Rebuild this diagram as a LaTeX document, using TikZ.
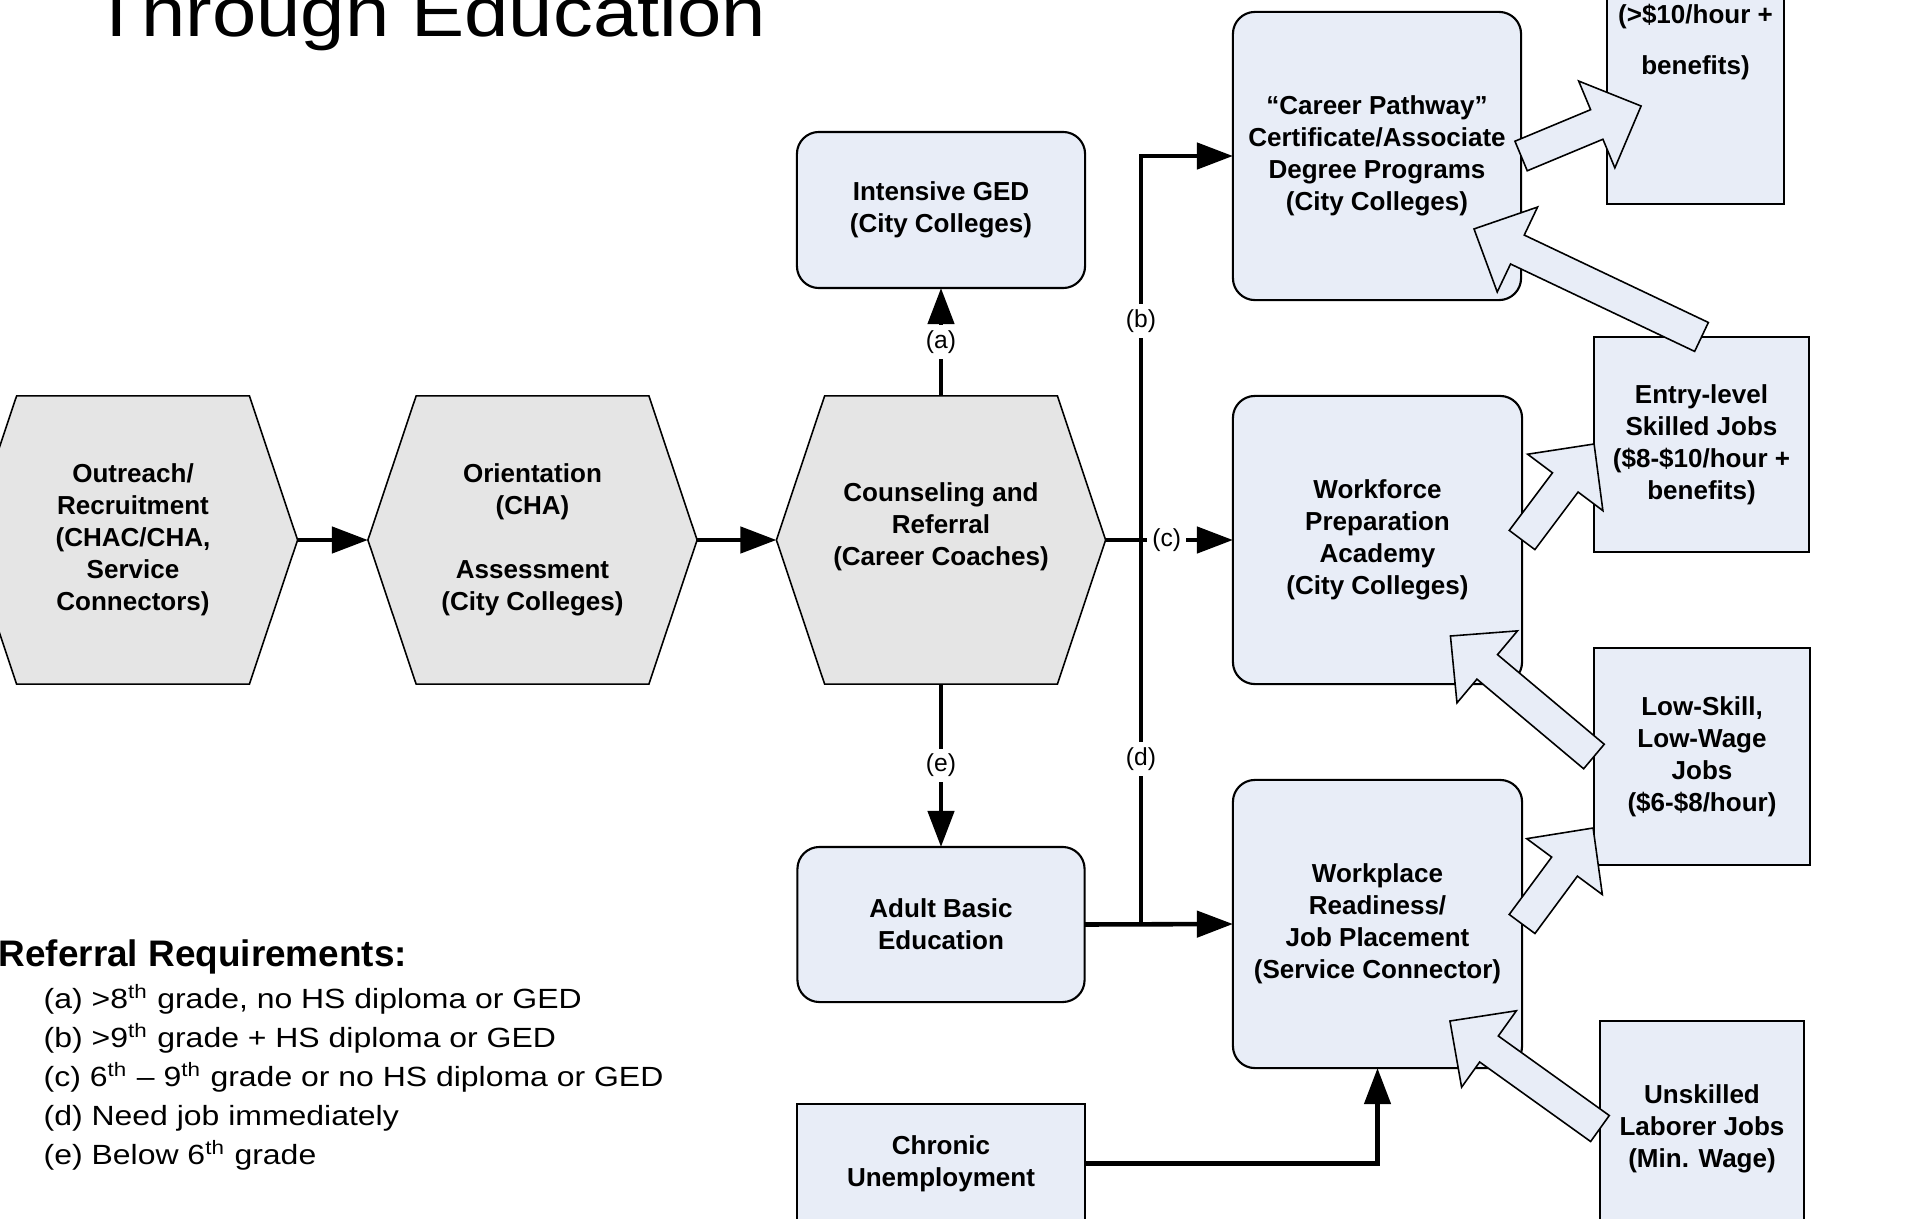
\documentclass[tikz,border=0pt]{standalone}
\usepackage{fontspec}
\setmainfont{Liberation Sans}
\newfontfamily\widefont[FakeStretch=1.15]{Liberation Sans}
\usetikzlibrary{arrows.meta,shapes.symbols,calc}

\definecolor{hexgray}{RGB}{229,229,229}
\definecolor{boxblue}{RGB}{232,237,247}
\newcommand{\boxfont}{\fontsize{7.4}{9.1}\selectfont\bfseries}

\tikzset{
  hexbox/.style={signal, signal to=east and west, signal pointer angle=143,
    draw, line width=0.45pt, fill=hexgray, minimum width=3.29cm, minimum height=2.88cm,
    align=center, font=\boxfont, inner sep=0pt, outer sep=0pt},
  progbox/.style={rectangle, rounded corners=0.22cm, draw, line width=0.6pt, fill=boxblue,
    align=center, font=\boxfont, inner sep=0pt, outer sep=0pt},
  jobbox/.style={rectangle, draw, line width=0.6pt, fill=boxblue,
    align=center, font=\boxfont, inner sep=0pt, outer sep=0pt},
  flow/.style={line width=1.3pt},
  flowarrow/.style={flow, -{Triangle[length=0.36cm,width=0.26cm]}},
  req/.style={fill=white, inner sep=1.5pt, font=\fontsize{7}{8}\selectfont},
  reqitem/.style={font=\widefont\fontsize{7.9}{9.5}\selectfont, inner sep=0pt},
  blockarrow/.style={draw, fill=boxblue, line width=0.45pt, line join=miter}
}

% wide hollow arrow from an anchor, #2 = offset of the tip
\newcommand{\jobarrow}[2]{%
  \coordinate (ja-s) at (#1);
  \coordinate (ja-e) at ($(#1)+(#2)$);
  \coordinate (ja-h) at ($(ja-e)!0.48cm!(ja-s)$);
  \draw[blockarrow] ($(ja-s)!0.16cm!90:(ja-e)$) -- ($(ja-h)!0.16cm!90:(ja-e)$)
    -- ($(ja-h)!0.47cm!90:(ja-e)$) -- (ja-e) -- ($(ja-h)!0.47cm!-90:(ja-e)$)
    -- ($(ja-h)!0.16cm!-90:(ja-e)$) -- ($(ja-s)!0.16cm!-90:(ja-e)$) -- cycle;
}

\begin{document}
\begin{tikzpicture}[x=0.01cm, y=-0.01cm]
\fill[white] (0,0) rectangle (1915,1218);
\useasboundingbox (0,0) rectangle (1915,1218);

\node[anchor=base west, font=\widefont\fontsize{19.7}{24}\selectfont, inner sep=0pt] (title) at (92,37) {Through Education};

% intake
\node[hexbox] (outreach) at (133,540) {Outreach/\\Recruitment\\(CHAC/CHA,\\Service\\Connectors)};
\node[hexbox] (orient) at (532.5,540) {Orientation\\(CHA)\\ \mbox{}\\Assessment\\(City Colleges)};
\node[hexbox] (counsel) at (941,540) {Counseling and\\Referral\\(Career Coaches)\\ \mbox{}};

% programs
\node[progbox, minimum width=2.88cm, minimum height=1.56cm] (ged) at (941,210) {Intensive GED\\(City Colleges)};
\node[progbox, minimum width=2.87cm, minimum height=1.55cm] (abe) at (941,924.5) {Adult Basic\\Education};
\node[jobbox, minimum width=2.87cm, minimum height=1.19cm] (chronic) at (941,1163.5) {Chronic\\Unemployment};
\node[progbox, minimum width=2.88cm, minimum height=2.88cm] (career) at (1377,156) {``Career Pathway''\\Certificate/Associate\\Degree Programs\\(City Colleges)};
\node[progbox, minimum width=2.89cm, minimum height=2.88cm] (workforce) at (1377.5,540) {Workforce\\Preparation\\Academy\\(City Colleges)};
\node[progbox, minimum width=2.89cm, minimum height=2.88cm] (workplace) at (1377.5,924) {Workplace\\Readiness/\\Job Placement\\(Service Connector)};

% jobs
\node[jobbox, minimum width=1.77cm, minimum height=3.24cm] (topjobs) at (1695.5,42) {(>\$10/hour +\\[5.6pt]benefits)};
\node[jobbox, minimum width=2.15cm, minimum height=2.15cm] (entry) at (1701.5,444.5) {Entry-level\\Skilled Jobs\\(\$8-\$10/hour +\\benefits)};
\node[jobbox, minimum width=2.16cm, minimum height=2.17cm] (lowskill) at (1702,756.5) {Low-Skill,\\Low-Wage\\Jobs\\(\$6-\$8/hour)};
\node[jobbox, minimum width=2.04cm, minimum height=2.15cm] (unskilled) at (1702,1128.5) {Unskilled\\Laborer Jobs\\(Min. Wage)};

% referrals
\draw[flowarrow] (outreach.east) -- (orient.west);
\draw[flowarrow] (orient.east) -- (counsel.west);
\draw[flowarrow] (counsel.north) -- node[req]{(a)} (ged.south);
\draw[flowarrow] (counsel.south) -- node[req]{(e)} (abe.north);
\coordinate (split) at (1141,540);
\draw[flowarrow] (counsel.east) -- node[req, pos=0.48]{(c)} (workforce.west);
\draw[flowarrow] (split) |- node[req, pos=0.285]{(b)} (career.west);
\draw[flow] (split) -- node[req, pos=0.57]{(d)} (split |- abe.east);
\draw[flowarrow] (abe.east) -- (workplace.west);
\draw[flowarrow] (chronic.east) -| (workplace.south);

% moves between programs and jobs
\jobarrow{career.east}{120,-50}
\jobarrow{entry.north}{-227.5,-108}
\jobarrow{workforce.east}{72,-96}
\jobarrow{lowskill.west}{-143.5,-120.5}
\jobarrow{workplace.east}{71,-96}
\jobarrow{unskilled.west}{-150,-107.5}

% legend
\node[anchor=base west, font=\fontsize{10.5}{12}\selectfont\bfseries, inner sep=0pt] (reqhead) at (-2,966) {Referral Requirements:};
\foreach \reqtext [count=\i from 0] in {%
  {(a) >8\textsuperscript{th} grade, no HS diploma or GED},
  {(b) >9\textsuperscript{th} grade + HS diploma or GED},
  {(c) 6\textsuperscript{th} \textendash\ 9\textsuperscript{th} grade or no HS diploma or GED},
  {(d) Need job immediately},
  {(e) Below 6\textsuperscript{th} grade}}
  \node[reqitem, anchor=base west] (req\i) at (43,{1008+39*\i}) {\reqtext};
\end{tikzpicture}
\end{document}
